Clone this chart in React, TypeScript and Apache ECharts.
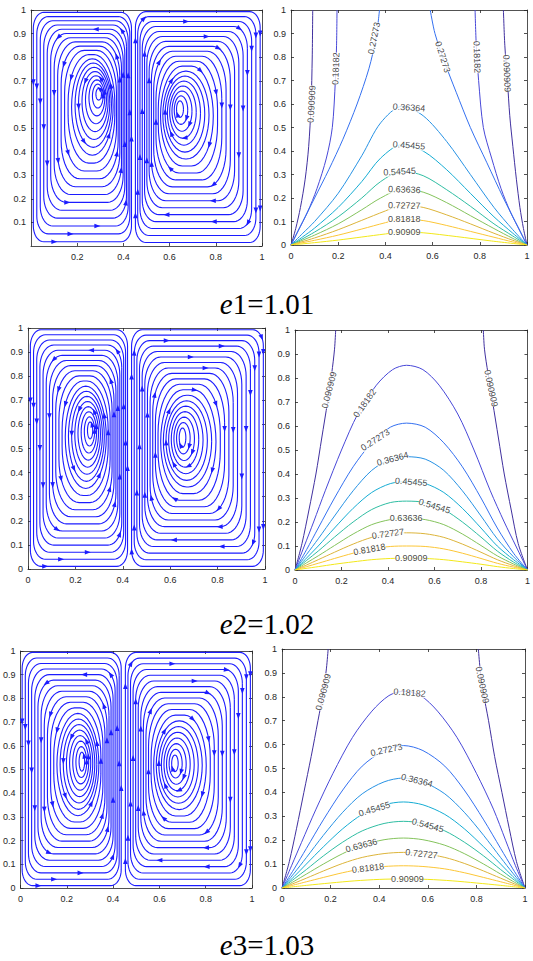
import React, { useEffect, useRef } from "react";
import * as echarts from "echarts";

// ---------- DATA ----------
const levelNames = ["0.090909", "0.18182", "0.27273", "0.36364", "0.45455", "0.54545", "0.63636", "0.72727", "0.81818", "0.90909"];
const levelColors = ["#40309f", "#4848d8", "#3470f0", "#2792e4", "#15acd3", "#2fbda2", "#84c35c", "#dcb43a", "#fcc636", "#f2e81a"];

const titleIndex = ["1", "2", "3"];
const titleValue = ["1.01", "1.02", "1.03"];

// streamline vortices: outer loop [x0, x1, y0, y1], core [cx, cy, rx, ry], rotation (1 = ccw, -1 = cw)
const streamOuterRow1 = [[0.01, 0.435, 0.018, 0.99], [0.452, 0.992, 0.015, 0.993]];
const streamCoreRow1 = [[0.293, 0.643, 0.012, 0.025], [0.645, 0.58, 0.015, 0.035]];
const streamOuterRow2 = [[0.01, 0.42, 0.011, 0.993], [0.437, 0.993, 0.011, 0.993]];
const streamCoreRow2 = [[0.262, 0.575, 0.011, 0.035], [0.652, 0.545, 0.014, 0.04]];
const streamOuterRow3 = [[0.007, 0.435, 0.01, 0.994], [0.453, 0.993, 0.01, 0.994]];
const streamCoreRow3 = [[0.265, 0.533, 0.012, 0.04], [0.667, 0.526, 0.014, 0.035]];
const vortexSpin = [1, -1];
const loopCount = 19;

// contour curves, row 1 (e1 = 1.01)
const r1_009L = [[0, 0], [0.02, 0.07], [0.04, 0.16], [0.06, 0.28], [0.075, 0.42], [0.085, 0.6], [0.09, 0.8], [0.092, 1]];
const r1_009R = [[1, 0], [0.985, 0.07], [0.97, 0.16], [0.955, 0.28], [0.94, 0.42], [0.927, 0.55], [0.917, 0.7], [0.906, 0.85], [0.9, 1]];
const r1_018L = [[0, 0], [0.03, 0.06], [0.07, 0.14], [0.11, 0.24], [0.15, 0.37], [0.175, 0.5], [0.188, 0.7], [0.193, 0.85], [0.195, 1]];
const r1_018R = [[1, 0], [0.97, 0.06], [0.93, 0.14], [0.89, 0.24], [0.85, 0.37], [0.815, 0.5], [0.795, 0.7], [0.785, 0.85], [0.78, 1]];
const r1_027L = [[0, 0], [0.05, 0.1], [0.1, 0.2], [0.16, 0.32], [0.22, 0.45], [0.28, 0.6], [0.33, 0.75], [0.36, 0.88], [0.375, 1]];
const r1_027R = [[1, 0], [0.95, 0.1], [0.9, 0.2], [0.83, 0.35], [0.76, 0.5], [0.7, 0.65], [0.65, 0.78], [0.61, 0.9], [0.59, 1]];
const r1_036 = [[0, 0], [0.05, 0.05], [0.1, 0.1], [0.2, 0.22], [0.3, 0.38], [0.38, 0.52], [0.47, 0.59], [0.56, 0.55], [0.66, 0.44], [0.76, 0.3], [0.86, 0.16], [0.94, 0.065], [1, 0]];
const r1_045 = [[0, 0], [0.05, 0.035], [0.1, 0.072], [0.2, 0.16], [0.3, 0.27], [0.38, 0.37], [0.47, 0.427], [0.56, 0.4], [0.66, 0.32], [0.76, 0.22], [0.86, 0.12], [0.94, 0.05], [1, 0]];
const r1_054 = [[0, 0], [0.1, 0.055], [0.2, 0.12], [0.3, 0.2], [0.38, 0.27], [0.47, 0.314], [0.56, 0.295], [0.66, 0.235], [0.76, 0.165], [0.86, 0.09], [0.94, 0.038], [1, 0]];
const r1_063 = [[0, 0], [0.1, 0.042], [0.2, 0.09], [0.3, 0.15], [0.38, 0.2], [0.47, 0.237], [0.56, 0.225], [0.66, 0.18], [0.76, 0.125], [0.86, 0.07], [0.94, 0.028], [1, 0]];
const r1_072 = [[0, 0], [0.1, 0.03], [0.2, 0.065], [0.3, 0.105], [0.4, 0.145], [0.47, 0.169], [0.56, 0.16], [0.66, 0.128], [0.76, 0.09], [0.86, 0.05], [0.94, 0.02], [1, 0]];
const r1_081 = [[0, 0], [0.1, 0.02], [0.2, 0.042], [0.3, 0.068], [0.4, 0.095], [0.47, 0.11], [0.56, 0.104], [0.66, 0.083], [0.76, 0.058], [0.86, 0.033], [0.94, 0.013], [1, 0]];
const r1_090 = [[0, 0], [0.1, 0.01], [0.2, 0.021], [0.3, 0.034], [0.4, 0.047], [0.47, 0.055], [0.56, 0.052], [0.7, 0.036], [0.85, 0.017], [1, 0]];

// contour curves, row 2 (e2 = 1.02)
const r2_009L = [[0, 0], [0.03, 0.11], [0.06, 0.25], [0.09, 0.4], [0.115, 0.55], [0.14, 0.7], [0.158, 0.82], [0.17, 0.92], [0.175, 1]];
const r2_009R = [[1, 0], [0.96, 0.11], [0.93, 0.25], [0.9, 0.4], [0.875, 0.55], [0.85, 0.7], [0.83, 0.82], [0.815, 0.92], [0.81, 1]];
const r2_018 = [[0, 0], [0.04, 0.1], [0.08, 0.2], [0.13, 0.33], [0.2, 0.5], [0.27, 0.65], [0.35, 0.77], [0.42, 0.835], [0.48, 0.853], [0.55, 0.835], [0.62, 0.77], [0.7, 0.65], [0.77, 0.5], [0.84, 0.33], [0.9, 0.2], [0.95, 0.1], [1, 0]];
const r2_027 = [[0, 0], [0.05, 0.085], [0.1, 0.175], [0.17, 0.3], [0.25, 0.43], [0.33, 0.53], [0.41, 0.595], [0.48, 0.612], [0.56, 0.595], [0.64, 0.53], [0.72, 0.43], [0.8, 0.3], [0.87, 0.175], [0.94, 0.07], [1, 0]];
const r2_036 = [[0, 0], [0.05, 0.065], [0.1, 0.13], [0.17, 0.225], [0.25, 0.33], [0.33, 0.415], [0.41, 0.462], [0.48, 0.472], [0.56, 0.462], [0.64, 0.415], [0.72, 0.33], [0.8, 0.225], [0.87, 0.13], [0.94, 0.055], [1, 0]];
const r2_045 = [[0, 0], [0.05, 0.05], [0.1, 0.1], [0.17, 0.175], [0.25, 0.257], [0.33, 0.323], [0.41, 0.36], [0.48, 0.368], [0.56, 0.36], [0.64, 0.323], [0.72, 0.257], [0.8, 0.175], [0.87, 0.1], [0.94, 0.043], [1, 0]];
const r2_054 = [[0, 0], [0.05, 0.04], [0.1, 0.079], [0.17, 0.137], [0.25, 0.2], [0.33, 0.252], [0.41, 0.281], [0.48, 0.287], [0.56, 0.281], [0.64, 0.252], [0.72, 0.2], [0.8, 0.137], [0.87, 0.079], [0.94, 0.033], [1, 0]];
const r2_063 = [[0, 0], [0.05, 0.03], [0.1, 0.059], [0.17, 0.102], [0.25, 0.15], [0.33, 0.189], [0.41, 0.21], [0.48, 0.215], [0.56, 0.21], [0.64, 0.189], [0.72, 0.15], [0.8, 0.102], [0.87, 0.059], [0.94, 0.025], [1, 0]];
const r2_072 = [[0, 0], [0.05, 0.021], [0.1, 0.043], [0.17, 0.074], [0.25, 0.108], [0.33, 0.136], [0.41, 0.151], [0.48, 0.155], [0.56, 0.151], [0.64, 0.136], [0.72, 0.108], [0.8, 0.074], [0.87, 0.043], [0.94, 0.018], [1, 0]];
const r2_081 = [[0, 0], [0.05, 0.014], [0.1, 0.028], [0.17, 0.048], [0.25, 0.07], [0.33, 0.088], [0.41, 0.098], [0.48, 0.1], [0.56, 0.098], [0.64, 0.088], [0.72, 0.07], [0.8, 0.048], [0.87, 0.028], [0.94, 0.012], [1, 0]];
const r2_090 = [[0, 0], [0.1, 0.014], [0.17, 0.024], [0.25, 0.034], [0.33, 0.043], [0.41, 0.048], [0.48, 0.049], [0.56, 0.048], [0.64, 0.043], [0.72, 0.034], [0.8, 0.024], [0.87, 0.014], [0.94, 0.006], [1, 0]];

// contour curves, row 3 (e3 = 1.03)
const r3_009L = [[0, 0], [0.03, 0.11], [0.06, 0.25], [0.09, 0.4], [0.12, 0.55], [0.148, 0.7], [0.17, 0.82], [0.183, 0.92], [0.19, 1]];
const r3_009R = [[1, 0], [0.965, 0.11], [0.935, 0.25], [0.905, 0.4], [0.875, 0.55], [0.85, 0.7], [0.828, 0.82], [0.815, 0.92], [0.808, 1]];
const r3_018 = [[0, 0], [0.04, 0.095], [0.08, 0.19], [0.14, 0.33], [0.21, 0.48], [0.29, 0.63], [0.37, 0.74], [0.44, 0.805], [0.5, 0.823], [0.57, 0.805], [0.64, 0.74], [0.72, 0.63], [0.8, 0.48], [0.87, 0.33], [0.92, 0.2], [0.96, 0.095], [1, 0]];
const r3_027 = [[0, 0], [0.05, 0.08], [0.1, 0.165], [0.17, 0.285], [0.25, 0.41], [0.33, 0.51], [0.42, 0.575], [0.5, 0.596], [0.58, 0.575], [0.67, 0.51], [0.75, 0.41], [0.83, 0.285], [0.9, 0.165], [0.95, 0.08], [1, 0]];
const r3_036 = [[0, 0], [0.05, 0.062], [0.1, 0.127], [0.17, 0.22], [0.25, 0.317], [0.33, 0.394], [0.42, 0.444], [0.5, 0.46], [0.58, 0.444], [0.67, 0.394], [0.75, 0.317], [0.83, 0.22], [0.9, 0.127], [0.95, 0.062], [1, 0]];
const r3_045 = [[0, 0], [0.05, 0.048], [0.1, 0.1], [0.17, 0.172], [0.25, 0.248], [0.33, 0.308], [0.42, 0.348], [0.5, 0.36], [0.58, 0.348], [0.67, 0.308], [0.75, 0.248], [0.83, 0.172], [0.9, 0.1], [0.95, 0.048], [1, 0]];
const r3_054 = [[0, 0], [0.05, 0.038], [0.1, 0.077], [0.17, 0.134], [0.25, 0.192], [0.33, 0.239], [0.42, 0.27], [0.5, 0.279], [0.58, 0.27], [0.67, 0.239], [0.75, 0.192], [0.83, 0.134], [0.9, 0.077], [0.95, 0.038], [1, 0]];
const r3_063 = [[0, 0], [0.05, 0.028], [0.1, 0.058], [0.17, 0.1], [0.25, 0.144], [0.33, 0.179], [0.42, 0.202], [0.5, 0.209], [0.58, 0.202], [0.67, 0.179], [0.75, 0.144], [0.83, 0.1], [0.9, 0.058], [0.95, 0.028], [1, 0]];
const r3_072 = [[0, 0], [0.05, 0.02], [0.1, 0.041], [0.17, 0.071], [0.25, 0.103], [0.33, 0.128], [0.42, 0.144], [0.5, 0.149], [0.58, 0.144], [0.67, 0.128], [0.75, 0.103], [0.83, 0.071], [0.9, 0.041], [0.95, 0.02], [1, 0]];
const r3_081 = [[0, 0], [0.1, 0.026], [0.17, 0.044], [0.25, 0.064], [0.33, 0.08], [0.42, 0.09], [0.5, 0.093], [0.58, 0.09], [0.67, 0.08], [0.75, 0.064], [0.83, 0.044], [0.9, 0.026], [1, 0]];
const r3_090 = [[0, 0], [0.1, 0.011], [0.2, 0.021], [0.3, 0.03], [0.4, 0.036], [0.5, 0.038], [0.6, 0.036], [0.7, 0.03], [0.8, 0.021], [0.9, 0.011], [1, 0]];

// contour labels: [text, x, y, rotation]
const r1Labels = [
  ["0.090909", 0.087, 0.6, 87], ["0.18182", 0.19, 0.75, 88], ["0.27273", 0.352, 0.88, 78],
  ["0.27273", 0.643, 0.8, -72], ["0.18182", 0.788, 0.8, -88], ["0.090909", 0.915, 0.73, -88],
  ["0.36364", 0.5, 0.585, -4], ["0.45455", 0.5, 0.424, -4], ["0.54545", 0.46, 0.312, 3],
  ["0.63636", 0.48, 0.236, -2], ["0.72727", 0.48, 0.168, -1], ["0.81818", 0.48, 0.11, 0], ["0.90909", 0.48, 0.054, 0],
];
const r2Labels = [
  ["0.090909", 0.147, 0.75, 76], ["0.090909", 0.843, 0.757, -78], ["0.18182", 0.3, 0.695, 55],
  ["0.27273", 0.345, 0.542, 33], ["0.36364", 0.42, 0.463, 15], ["0.45455", 0.5, 0.367, -4],
  ["0.54545", 0.6, 0.266, -17], ["0.63636", 0.478, 0.215, 0], ["0.72727", 0.4, 0.151, 8],
  ["0.81818", 0.32, 0.086, 10], ["0.90909", 0.5, 0.049, 0],
];
const r3Labels = [
  ["0.090909", 0.17, 0.82, 75], ["0.090909", 0.824, 0.85, -78], ["0.18182", 0.525, 0.817, -4],
  ["0.27273", 0.43, 0.578, 12], ["0.36364", 0.555, 0.45, -14], ["0.45455", 0.38, 0.33, 17],
  ["0.54545", 0.6, 0.262, -15], ["0.63636", 0.327, 0.178, 15], ["0.72727", 0.574, 0.143, -6],
  ["0.81818", 0.354, 0.083, 7], ["0.90909", 0.516, 0.038, 0],
];

// ---------- ASSEMBLY ----------
const rowCurves: [number, number[][]][][] = [
  [[0, r1_009L], [0, r1_009R], [1, r1_018L], [1, r1_018R], [2, r1_027L], [2, r1_027R], [3, r1_036], [4, r1_045], [5, r1_054], [6, r1_063], [7, r1_072], [8, r1_081], [9, r1_090]],
  [[0, r2_009L], [0, r2_009R], [1, r2_018], [2, r2_027], [3, r2_036], [4, r2_045], [5, r2_054], [6, r2_063], [7, r2_072], [8, r2_081], [9, r2_090]],
  [[0, r3_009L], [0, r3_009R], [1, r3_018], [2, r3_027], [3, r3_036], [4, r3_045], [5, r3_054], [6, r3_063], [7, r3_072], [8, r3_081], [9, r3_090]],
];
const rowLabels = [r1Labels, r2Labels, r3Labels];
const rowStreamOuter = [streamOuterRow1, streamOuterRow2, streamOuterRow3];
const rowStreamCore = [streamCoreRow1, streamCoreRow2, streamCoreRow3];

// layout [left, top, width, height]
const panelRects = [
  [31, 10, 231, 236], [291, 10, 236, 235],
  [28, 328, 237, 241], [295, 330, 235, 240],
  [13, 651, 239, 237], [282, 649, 243, 239],
];
const titleY = [304, 624, 945];

const BLUE = "#1c1cff";
const AXIS = "#262626";
const SANS = '"Liberation Sans", Arial, Helvetica, sans-serif';
const SERIF = '"Liberation Serif", "Times New Roman", serif';
const ARROW_GAP = 175;

function loopItems(row: number) {
  const items: number[][] = [];
  for (let v = 0; v < 2; v++) {
    const o = rowStreamOuter[row][v];
    const c = rowStreamCore[row][v];
    const inner = [c[0] - c[2], c[0] + c[2], c[1] - c[3], c[1] + c[3]];
    for (let i = 0; i < loopCount; i++) {
      const t = i / (loopCount - 1);
      items.push([
        o[0] + (inner[0] - o[0]) * t,
        o[1] + (inner[1] - o[1]) * t,
        o[2] + (inner[2] - o[2]) * t,
        o[3] + (inner[3] - o[3]) * t,
        vortexSpin[v], i, v, t,
      ]);
    }
  }
  return items;
}

function renderLoop(params: any, api: any) {
  const x0 = api.value(0), x1 = api.value(1), y0 = api.value(2), y1 = api.value(3);
  const dir = api.value(4), idx = api.value(5), vIdx = api.value(6), t = api.value(7);
  const hw = (x1 - x0) / 2, hh = (y1 - y0) / 2;
  const rx = Math.min(hw, 0.045 + 0.08 * t);
  const ry = Math.min(hh, rx * (1.5 + 2.5 * t * t));
  const centers = [[x1 - rx, y1 - ry], [x0 + rx, y1 - ry], [x0 + rx, y0 + ry], [x1 - rx, y0 + ry]];
  const pts: number[][] = [];
  for (let c = 0; c < 4; c++) {
    for (let s = 0; s <= 10; s++) {
      const a = ((c * 90 + (s * 90) / 10) * Math.PI) / 180;
      pts.push(api.coord([centers[c][0] + rx * Math.cos(a), centers[c][1] + ry * Math.sin(a)]));
    }
  }
  pts.push(pts[0]);
  if (dir < 0) pts.reverse();
  const segs: number[] = [];
  let total = 0;
  for (let k = 0; k < pts.length - 1; k++) {
    const L = Math.hypot(pts[k + 1][0] - pts[k][0], pts[k + 1][1] - pts[k][1]);
    segs.push(L);
    total += L;
  }
  const children: any[] = [
    { type: "polyline", shape: { points: pts }, style: { stroke: BLUE, lineWidth: 1.1, fill: "none" } },
  ];
  if (total > 25) {
    const hash = ((idx + 1) * 7919 + (vIdx + 1) * 104729 + idx * idx * 31) % 997;
    let s = (hash / 997) * ARROW_GAP;
    let k = 0, acc = 0;
    while (s < total) {
      while (k < segs.length && acc + segs[k] < s) { acc += segs[k]; k++; }
      if (k >= segs.length) break;
      if (segs[k] > 0) {
        const f = (s - acc) / segs[k];
        const p0 = pts[k], p1 = pts[k + 1];
        const px = p0[0] + (p1[0] - p0[0]) * f, py = p0[1] + (p1[1] - p0[1]) * f;
        const dx = (p1[0] - p0[0]) / segs[k], dy = (p1[1] - p0[1]) / segs[k];
        const nx = -dy, ny = dx;
        children.push({
          type: "polygon",
          shape: { points: [[px + dx * 3.5, py + dy * 3.5], [px - dx * 2.5 + nx * 2.3, py - dy * 2.5 + ny * 2.3], [px - dx * 2.5 - nx * 2.3, py - dy * 2.5 - ny * 2.3]] },
          style: { fill: BLUE },
        });
      }
      s += ARROW_GAP;
    }
  }
  return { type: "group", children };
}

function axis(gi: number, pos: string, interval: number, labels: boolean, showMin: boolean) {
  const isX = pos === "bottom" || pos === "top";
  return {
    type: "value", gridIndex: gi, position: pos, min: 0, max: 1, interval,
    axisLine: { show: true, onZero: false, lineStyle: { color: AXIS, width: 0.8 } },
    axisTick: { show: true, inside: true, length: 3, lineStyle: { color: AXIS, width: 0.8 } },
    axisLabel: {
      show: labels, showMinLabel: showMin, showMaxLabel: true, fontSize: 9, color: AXIS,
      fontFamily: SANS, margin: isX ? 6 : 5,
      formatter: (v: number) => String(Math.round(v * 10) / 10),
    },
    splitLine: { show: false },
  };
}

function buildOption() {
  const grid = panelRects.map((r) => ({ left: r[0], top: r[1], width: r[2], height: r[3], containLabel: false }));
  const xAxis: any[] = [], yAxis: any[] = [];
  panelRects.forEach((_, p) => {
    const showMin = p !== 0;
    xAxis.push(axis(p, "bottom", 0.2, true, showMin));
    xAxis.push(axis(p, "top", 0.2, false, true));
    yAxis.push(axis(p, "left", 0.1, true, showMin));
    yAxis.push(axis(p, "right", 0.1, false, true));
  });
  const series: any[] = [];
  for (let r = 0; r < 3; r++) {
    const lp = 2 * r, rp = 2 * r + 1;
    series.push({
      type: "custom", xAxisIndex: 2 * lp, yAxisIndex: 2 * lp, data: loopItems(r),
      renderItem: renderLoop, clip: true, silent: true,
    });
    rowCurves[r].forEach(([lv, pts]) => {
      series.push({
        type: "line", xAxisIndex: 2 * rp, yAxisIndex: 2 * rp, data: pts, smooth: 0.3,
        symbol: "none", showSymbol: false, silent: true, z: 2,
        lineStyle: { color: levelColors[lv], width: 1 },
      });
    });
    series.push({
      type: "scatter", xAxisIndex: 2 * rp, yAxisIndex: 2 * rp, symbolSize: 1, silent: true, z: 5,
      itemStyle: { color: "rgba(0,0,0,0)" },
      data: rowLabels[r].map((l: any[]) => ({
        value: [l[1], l[2]],
        label: {
          show: true, formatter: l[0], rotate: l[3], position: "inside", fontSize: 9,
          color: "#111", fontFamily: SANS, backgroundColor: "#fff", padding: [0, 0],
        },
      })),
    });
  }
  const graphic = titleIndex.map((t, i) => ({
    type: "text", x: 267, y: titleY[i], z: 10,
    style: {
      text: `{i|e}{n|${t}=${titleValue[i]}}`,
      align: "center", verticalAlign: "middle",
      rich: {
        i: { fontStyle: "italic", fontSize: 29, lineHeight: 28, fontFamily: SERIF, fill: "#000" },
        n: { fontSize: 29, lineHeight: 28, fontFamily: SERIF, fill: "#000" },
      },
    },
  }));
  return { animation: false, backgroundColor: "#fff", grid, xAxis, yAxis, series, graphic };
}

export default function App() {
  const ref = useRef<HTMLDivElement>(null);
  useEffect(() => {
    document.body.style.margin = "0";
    const chart = echarts.init(ref.current as HTMLDivElement, null, { renderer: "svg" });
    chart.setOption(buildOption() as any);
    return () => chart.dispose();
  }, []);
  return <div ref={ref} style={{ width: 533, height: 961, background: "#fff" }} />;
}
